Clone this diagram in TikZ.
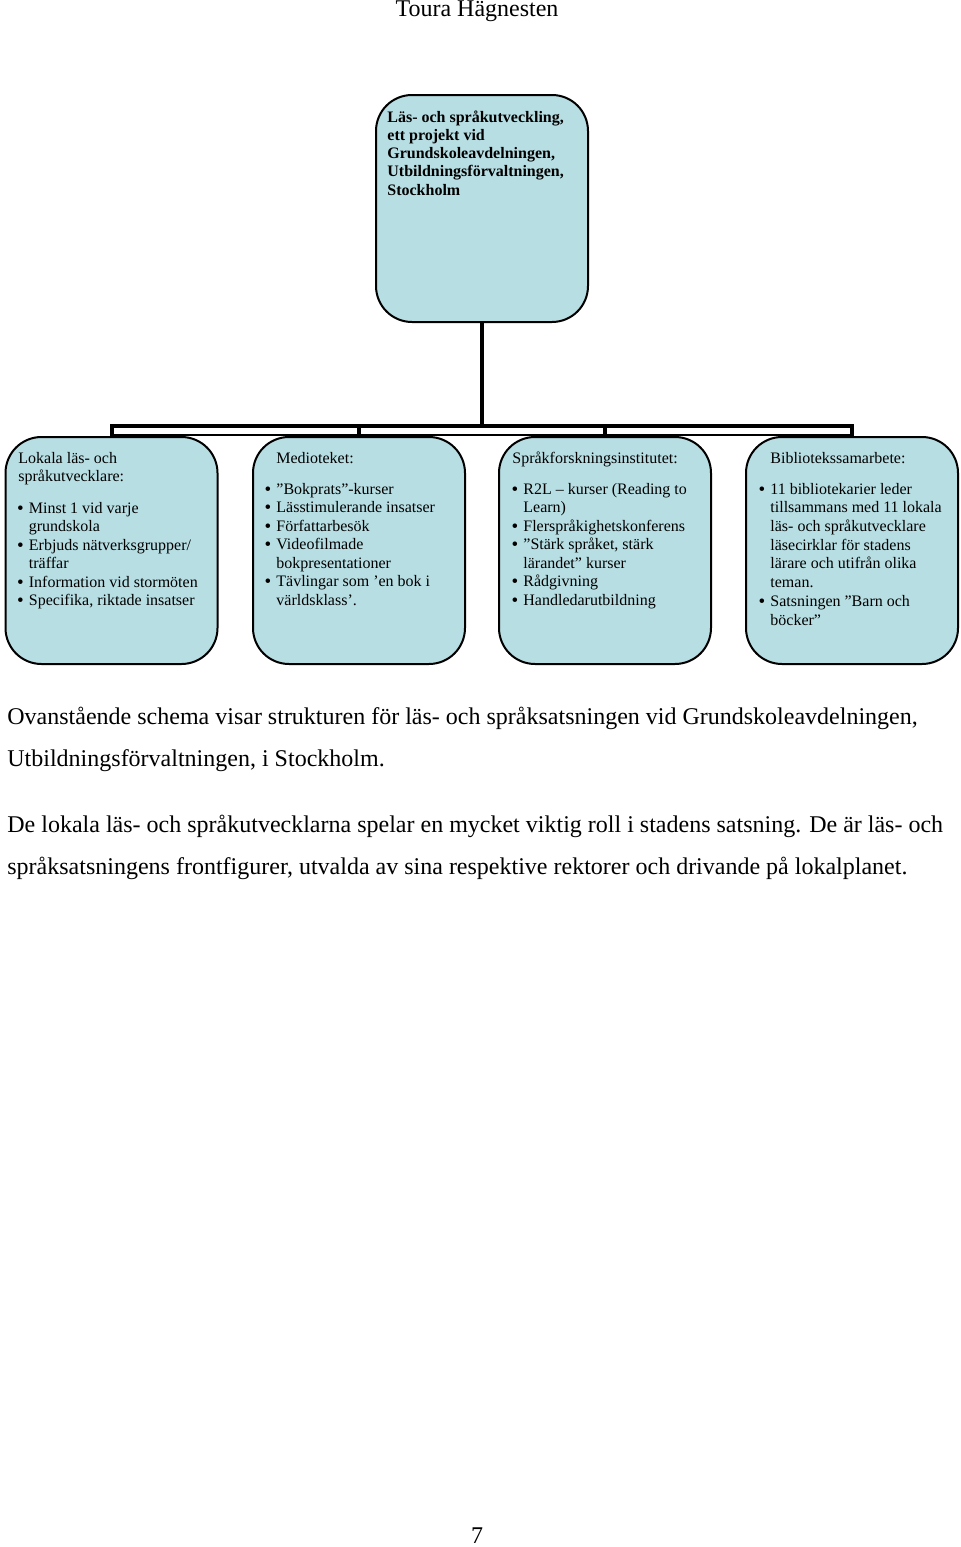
\documentclass[tikz,border=0pt]{standalone}
\usepackage{fontspec}
\setmainfont{Liberation Serif}
\definecolor{boxblue}{RGB}{183,222,227}
\newcommand{\bul}{\makebox[5.5pt][l]{\hspace*{-0.4pt}\raisebox{-0.7pt}{\fontsize{9.5}{9}\selectfont\textbullet}}}
\newcommand{\cnt}{\hspace*{5.5pt}}

\begin{document}
\begin{tikzpicture}[x=0.5pt,y=-0.5pt,
    orgbox/.style={draw=black,line width=1pt,fill=boxblue,rounded corners=18pt,
      minimum width=106pt,minimum height=113.5pt,inner sep=0pt},
    boxtext/.style={anchor=base west,inner sep=0pt,align=left,
      font=\fontsize{8}{9.25}\selectfont},
    pagetext/.style={anchor=base west,inner sep=0pt,align=left,
      font=\fontsize{12}{21}\selectfont},
    link/.style={line width=2pt,line join=miter}]
  \useasboundingbox (0,0) rectangle (960,1547);

  % page head and foot
  \node[inner sep=0pt,anchor=base,font=\fontsize{12}{14}\selectfont] (author) at (477,17) {Toura Hägnesten};
  \node[inner sep=0pt,anchor=base,font=\fontsize{12}{14}\selectfont] (pagenr) at (477,1543) {7};

  % boxes
  \node[orgbox] (proj) at (482,208.5) {};
  \node[orgbox] (lok) at (111.5,550.5) {};
  \node[orgbox] (med) at (359,550.5) {};
  \node[orgbox] (spr) at (605,550.5) {};
  \node[orgbox] (bib) at (852,550.5) {};

  % connectors
  \coordinate (bus) at (482,426);
  \coordinate (busb) at (482,435);
  \draw[link] (proj.south) -- (bus);
  \draw[link] (lok.north) -- (lok.north |- bus) -- (bib.north |- bus) -- (bib.north);
  \foreach \b in {med,spr}{
    \draw[link] (\b.north |- bus) -- (\b.north);
  }
  \draw[line width=0.7pt] (lok.north |- busb) -- (bib.north |- busb);

  % texts in the boxes (base = last line)
  \node[boxtext,font=\fontsize{8}{9.15}\selectfont\bfseries] (projtext) at (387,195.2)
    {Läs- och språkutveckling,\\ett projekt vid\\Grundskoleavdelningen,\\Utbildningsförvaltningen,\\Stockholm};

  \node[boxtext] (lokhead) at (18,481.5) {Lokala läs- och\\språkutvecklare:};
  \node[boxtext] (loklist) at (17.5,605.5)
    {\bul Minst 1 vid varje\\\cnt grundskola\\\bul Erbjuds nätverksgrupper/\\\cnt träffar\\%
     \bul Information vid stormöten\\\bul Specifika, riktade insatser};

  \node[boxtext] (medhead) at (276,463) {Medioteket:};
  \node[boxtext] (medlist) at (265,605)
    {\bul ”Bokprats”-kurser\\\bul Lässtimulerande insatser\\\bul Författarbesök\\%
     \bul Videofilmade\\\cnt bokpresentationer\\\bul Tävlingar som ’en bok i\\\cnt världsklass’.};

  \node[boxtext] (sprhead) at (512,463) {Språkforskningsinstitutet:};
  \node[boxtext] (sprlist) at (512,605)
    {\bul R2L -- kurser (Reading to\\\cnt Learn)\\\bul Flerspråkighetskonferens\\%
     \bul ”Stärk språket, stärk\\\cnt lärandet” kurser\\\bul Rådgivning\\\bul Handledarutbildning};

  \node[boxtext] (bibhead) at (770,463) {Bibliotekssamarbete:};
  \node[boxtext,font=\fontsize{8}{9.35}\selectfont] (biblist) at (759,625)
    {\bul 11 bibliotekarier leder\\\cnt tillsammans med 11 lokala\\\cnt läs- och språkutvecklare\\%
     \cnt läsecirklar för stadens\\\cnt lärare och utifrån olika\\\cnt teman.\\%
     \bul Satsningen ”Barn och\\\cnt böcker”};

  % running text below the chart
  \node[pagetext] (para1) at (7,766)
    {Ovanstående schema visar strukturen för läs- och språksatsningen vid Grundskoleavdelningen,\\%
     Utbildningsförvaltningen, i Stockholm.};
  \node[pagetext] (para2) at (7,874)
    {De lokala läs- och språkutvecklarna spelar en mycket viktig roll i stadens satsning. De är läs- och\\%
     språksatsningens frontfigurer, utvalda av sina respektive rektorer och drivande på lokalplanet.};
\end{tikzpicture}
\end{document}
